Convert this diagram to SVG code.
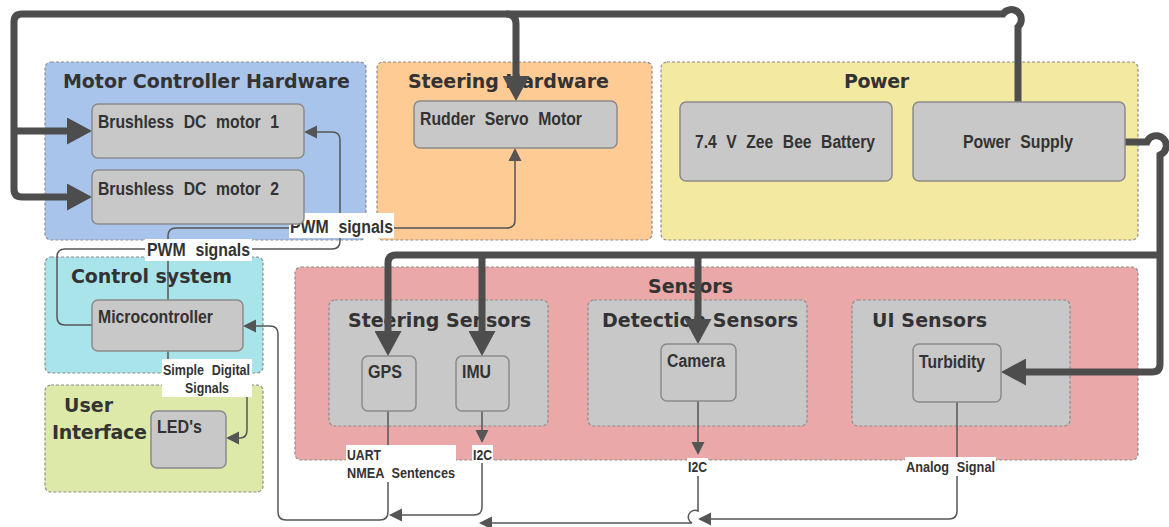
<svg xmlns="http://www.w3.org/2000/svg" width="1169" height="527" viewBox="0 0 1169 527">
<style>
.grp{stroke:#8c8c8c;stroke-width:1.2;stroke-dasharray:3 2}
.node{fill:#c8c8c8;stroke:#8a8a8a;stroke-width:1.5}
.sub{fill:#c8c8c8;stroke:#8c8c8c;stroke-width:1.2;stroke-dasharray:3 2}
.t{font-family:"DejaVu Sans","Liberation Sans",sans-serif;font-weight:bold;font-size:19px;fill:#333}
.n{font-family:"Liberation Sans",sans-serif;font-weight:bold;font-size:18px;word-spacing:6px;fill:#333}
.l{font-family:"Liberation Sans",sans-serif;font-weight:bold;font-size:15px;word-spacing:5px;fill:#333}
.thick{fill:none;stroke:#4d4d4d;stroke-width:7}
.thin{fill:none;stroke:#555;stroke-width:1.5}
.lbg{fill:#fff}
</style>
<defs>
<marker id="big" markerUnits="userSpaceOnUse" markerWidth="26" markerHeight="27" refX="0" refY="13.5" orient="auto">
<path d="M0,0 L25,13.5 L0,27 Z" fill="#4d4d4d"/>
</marker>
<marker id="sm" markerUnits="userSpaceOnUse" markerWidth="14" markerHeight="14" refX="0" refY="7" orient="auto">
<path d="M0,0.5 L13,7 L0,13.5 Z" fill="#555"/>
</marker>
</defs>

<!-- containers -->
<g id="motor-controller-hardware">
<rect class="grp" x="45" y="62" width="321" height="178" rx="6" fill="#a9c4eb"/>
<text class="t" x="63" y="88" textLength="287">Motor Controller Hardware</text>
</g>
<g id="steering-hardware">
<rect class="grp" x="377" y="62" width="275" height="178" rx="6" fill="#fecb95"/>
<text class="t" x="408" y="88" textLength="201">Steering Hardware</text>
</g>
<g id="power">
<rect class="grp" x="661" y="62" width="477" height="178" rx="6" fill="#f4e9a1"/>
<text class="t" x="844" y="88" textLength="65">Power</text>
</g>
<g id="control-system">
<rect class="grp" x="45" y="257" width="218" height="116" rx="6" fill="#a9e4ea"/>
<text class="t" x="71" y="283" textLength="161">Control system</text>
</g>
<g id="user-interface">
<rect class="grp" x="45" y="385" width="218" height="107" rx="6" fill="#dce9a8"/>
<text class="t" x="64" y="412" textLength="49">User</text>
<text class="t" x="52" y="439" textLength="95">Interface</text>
</g>
<g id="sensors">
<rect class="grp" x="295" y="267" width="843" height="193" rx="6" fill="#eaa8a8"/>
<text class="t" x="648" y="293" textLength="85">Sensors</text>
</g>
<g id="steering-sensors">
<rect class="sub" x="329" y="300" width="219" height="126" rx="6"/>
<text class="t" x="348" y="327" textLength="183">Steering Sensors</text>
</g>
<g id="detection-sensors">
<rect class="sub" x="588" y="300" width="219" height="126" rx="6"/>
<text class="t" x="602" y="327" textLength="196">Detection Sensors</text>
</g>
<g id="ui-sensors">
<rect class="sub" x="852" y="300" width="218" height="126" rx="6"/>
<text class="t" x="872" y="327" textLength="115">UI Sensors</text>
</g>

<!-- connectors -->
<g id="connectors">
<path class="thick" d="M1018,102 V27 A10,10 0 1 0 1003,14 H22 Q14,14 14,22 V189 Q14,197 22,197 H67" marker-end="url(#big)"/>
<path class="thick" d="M14,131 H67" marker-end="url(#big)"/>
<path class="thick" d="M506,14 Q516,14 516,24 V76" marker-end="url(#big)"/>
<path class="thick" d="M1125,142 H1147 A10,10 0 1 1 1160,155 V364 Q1160,372 1152,372 H1026" marker-end="url(#big)"/>
<path class="thick" d="M1160,255 H396 Q388,255 388,263 V331" marker-end="url(#big)"/>
<path class="thick" d="M482,255 V331" marker-end="url(#big)"/>
<path class="thick" d="M698,255 V319" marker-end="url(#big)"/>

<path class="thin" d="M92,325 H65 Q57,325 57,317 V257 Q57,249 65,249 H332 Q340,249 340,241 V140 Q340,132 332,132 H317" marker-end="url(#sm)"/>
<path class="thin" d="M168,300 V255 A6,6 0 0 0 168,243 V236 Q168,228 176,228 H507 Q515,228 515,220 V161" marker-end="url(#sm)"/>
<path class="thin" d="M168,351 V377 H247 V430 Q247,438 240,438 H239" marker-end="url(#sm)"/>
<path class="thin" d="M388,411 V512 Q388,520 380,520 H286 Q278,520 278,512 V334 Q278,326 270,326 H256" marker-end="url(#sm)"/>
<path class="thin" d="M482,411 V430" marker-end="url(#sm)"/>
<path class="thin" d="M482,462 V507 Q482,515 474,515 H402" marker-end="url(#sm)"/>
<path class="thin" d="M698,401 V442" marker-end="url(#sm)"/>
<path class="thin" d="M698,475 V511 A6,6 0 0 0 692,523 H492" marker-end="url(#sm)"/>
<path class="thin" d="M957,401 V511 Q957,519 949,519 H711" marker-end="url(#sm)"/>

<rect class="lbg" x="289" y="213" width="105" height="25"/>
<text class="n" x="290" y="233" textLength="103" lengthAdjust="spacingAndGlyphs">PWM signals</text>
<rect class="lbg" x="145" y="239" width="107" height="22"/>
<text class="n" x="147" y="256" textLength="103" lengthAdjust="spacingAndGlyphs">PWM signals</text>
<rect class="lbg" x="162" y="359" width="90" height="38"/>
<text class="l" x="163" y="375" textLength="87" lengthAdjust="spacingAndGlyphs">Simple Digital</text>
<text class="l" x="185" y="393" textLength="44" lengthAdjust="spacingAndGlyphs">Signals</text>
<rect class="lbg" x="346" y="445" width="110" height="37"/>
<text class="l" x="347" y="460" textLength="34" lengthAdjust="spacingAndGlyphs">UART</text>
<text class="l" x="347" y="478" textLength="108" lengthAdjust="spacingAndGlyphs">NMEA Sentences</text>
<rect class="lbg" x="472" y="445" width="21" height="18"/>
<text class="l" x="473" y="460" textLength="19" lengthAdjust="spacingAndGlyphs">I2C</text>
<rect class="lbg" x="687" y="458" width="21" height="18"/>
<text class="l" x="688" y="472" textLength="19" lengthAdjust="spacingAndGlyphs">I2C</text>
<rect class="lbg" x="905" y="457" width="91" height="19"/>
<text class="l" x="906" y="472" textLength="89" lengthAdjust="spacingAndGlyphs">Analog Signal</text>
</g>

<!-- nodes -->
<g id="bldc-motor-1">
<rect class="node" x="92" y="104" width="212" height="54" rx="6"/>
<text class="n" x="98" y="128" textLength="181" lengthAdjust="spacingAndGlyphs">Brushless DC motor 1</text>
</g>
<g id="bldc-motor-2">
<rect class="node" x="92" y="170" width="212" height="54" rx="6"/>
<text class="n" x="98" y="195" textLength="181" lengthAdjust="spacingAndGlyphs">Brushless DC motor 2</text>
</g>
<g id="rudder-servo-motor">
<rect class="node" x="414" y="101" width="203" height="47" rx="6"/>
<text class="n" x="420" y="125" textLength="162" lengthAdjust="spacingAndGlyphs">Rudder Servo Motor</text>
</g>
<g id="battery">
<rect class="node" x="680" y="102" width="212" height="79" rx="6"/>
<text class="n" x="695" y="148" textLength="180" lengthAdjust="spacingAndGlyphs">7.4 V Zee Bee Battery</text>
</g>
<g id="power-supply">
<rect class="node" x="913" y="102" width="212" height="79" rx="6"/>
<text class="n" x="963" y="148" textLength="110" lengthAdjust="spacingAndGlyphs">Power Supply</text>
</g>
<g id="microcontroller">
<rect class="node" x="92" y="300" width="151" height="51" rx="6"/>
<text class="n" x="98" y="323" textLength="115" lengthAdjust="spacingAndGlyphs">Microcontroller</text>
</g>
<g id="leds">
<rect class="node" x="151" y="411" width="75" height="57" rx="6"/>
<text class="n" x="157" y="433" textLength="45" lengthAdjust="spacingAndGlyphs">LED's</text>
</g>
<g id="gps">
<rect class="node" x="362" y="356" width="54" height="55" rx="6"/>
<text class="n" x="368" y="378" textLength="34" lengthAdjust="spacingAndGlyphs">GPS</text>
</g>
<g id="imu">
<rect class="node" x="456" y="356" width="53" height="55" rx="6"/>
<text class="n" x="462" y="378" textLength="29" lengthAdjust="spacingAndGlyphs">IMU</text>
</g>
<g id="camera">
<rect class="node" x="661" y="344" width="75" height="57" rx="6"/>
<text class="n" x="667" y="367" textLength="58" lengthAdjust="spacingAndGlyphs">Camera</text>
</g>
<g id="turbidity">
<rect class="node" x="913" y="344" width="88" height="58" rx="6"/>
<text class="n" x="919" y="368" textLength="66" lengthAdjust="spacingAndGlyphs">Turbidity</text>
</g>
</svg>
